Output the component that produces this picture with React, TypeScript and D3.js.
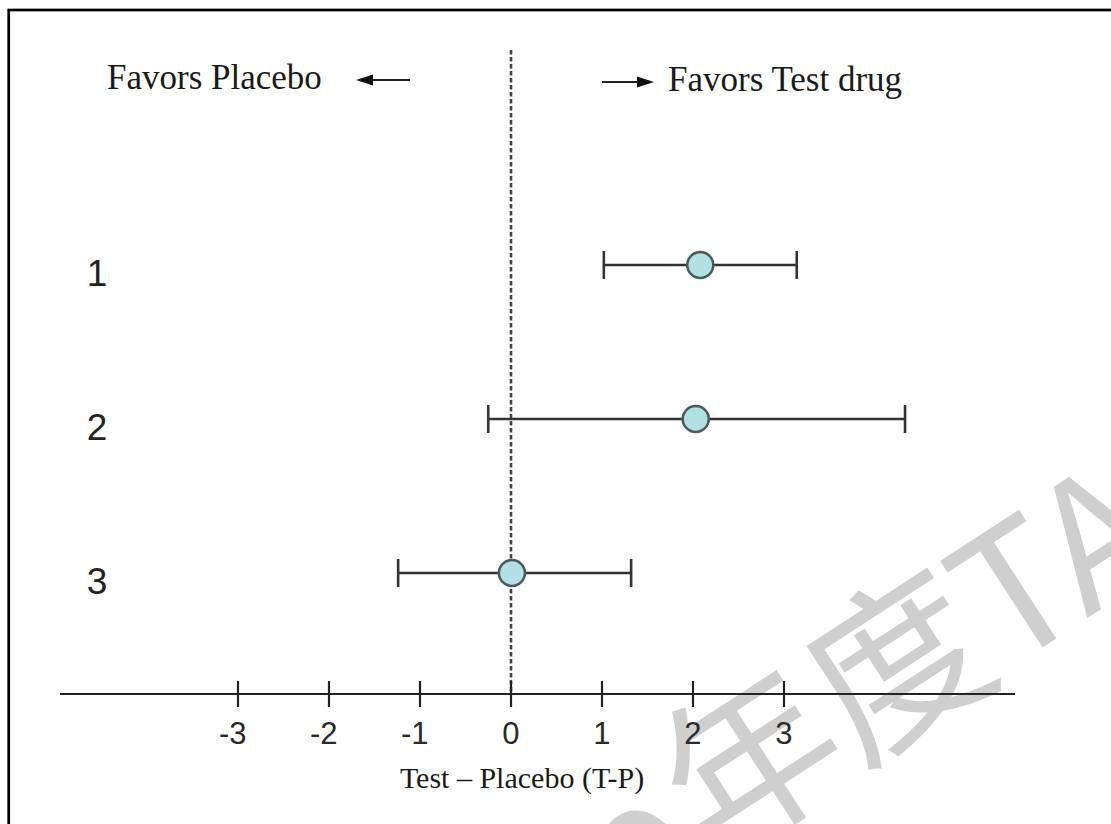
import React from "react";
import * as d3 from "d3";

const rows = ["1", "2", "3"];
const estimates = [2.08, 2.03, 0.01];
const lowerCI = [1.02, -0.25, -1.24];
const upperCI = [3.14, 4.33, 1.32];
const tickValues = [-3, -2, -1, 0, 1, 2, 3];
const leftLabel = "Favors Placebo";
const rightLabel = "Favors Test drug";
const axisTitle = "Test – Placebo (T-P)";
const watermarkHead = "2020";
const watermarkTail = "年度TA";

const W = 1111;
const H = 824;

export default function App() {
  const x = d3.scaleLinear().domain([-3, 3]).range([238, 784]);
  const y = d3.scalePoint<string>().domain(rows).range([265, 573]);
  const axisY = 694;
  const serif = "'Liberation Serif', 'Times New Roman', serif";
  const sans = "'Liberation Sans', Arial, sans-serif";
  const wmX = 712;
  const wmY = 862;

  return (
    <svg
      width={W}
      height={H}
      viewBox={`0 0 ${W} ${H}`}
      style={{ position: "absolute", left: 0, top: 0, background: "#fff" }}
    >
      <rect x={0} y={0} width={W} height={H} fill="#fff" />

      {/* watermark (behind the chart) */}
      <g
        transform={`translate(${wmX},${wmY}) rotate(-33)`}
        fill="#cfcfcf"
        fontFamily="'Noto Sans CJK SC', 'Noto Sans', sans-serif"
        fontSize={175}
      >
        <text x={-6} y={37} textAnchor="end">{watermarkHead}</text>
        <text x={0} y={0}>{watermarkTail}</text>
      </g>

      {/* frame */}
      <rect x={8.7} y={10} width={1300} height={1000} fill="none" stroke="#000" strokeWidth={2.7} />

      {/* header labels with arrows */}
      <text x={107} y={89} fontFamily={serif} fontSize={35} fill="#1a1a1a">
        {leftLabel}
      </text>
      <line x1={369} x2={410} y1={80} y2={80} stroke="#222" strokeWidth={2.2} />
      <path d="M356,80 L373,74.5 L373,85.5 Z" fill="#111" />

      <line x1={602} x2={642} y1={82} y2={82} stroke="#222" strokeWidth={2.2} />
      <path d="M654,82 L637,76.5 L637,87.5 Z" fill="#111" />
      <text x={668} y={91} fontFamily={serif} fontSize={35} fill="#1a1a1a">
        {rightLabel}
      </text>

      {/* zero reference line */}
      <line
        x1={x(0)}
        x2={x(0)}
        y1={50}
        y2={axisY}
        stroke="#444"
        strokeWidth={2.6}
        strokeDasharray="4.5,2.5"
      />

      {/* x axis */}
      <line x1={60} x2={1015} y1={axisY} y2={axisY} stroke="#222" strokeWidth={2.2} />
      {tickValues.map((t) => (
        <g key={t}>
          <line x1={x(t)} x2={x(t)} y1={axisY - 13} y2={axisY + 13} stroke="#222" strokeWidth={2.2} />
          <text
            x={x(t) + 8.5}
            y={744}
            textAnchor="end"
            fontFamily={sans}
            fontSize={31}
            fill="#2a2a2a"
          >
            {String(t)}
          </text>
        </g>
      ))}
      <text x={522} y={788} textAnchor="middle" fontFamily={serif} fontSize={30} fill="#1a1a1a">
        {axisTitle}
      </text>

      {/* rows */}
      {rows.map((r, i) => {
        const cy = y(r) as number;
        return (
          <g key={r}>
            <text
              x={97}
              y={cy + 21}
              textAnchor="middle"
              fontFamily={sans}
              fontSize={37}
              fill="#222"
            >
              {r}
            </text>
            <line x1={x(lowerCI[i])} x2={x(upperCI[i])} y1={cy} y2={cy} stroke="#333" strokeWidth={2.6} />
            <line x1={x(lowerCI[i])} x2={x(lowerCI[i])} y1={cy - 14} y2={cy + 14} stroke="#333" strokeWidth={2.6} />
            <line x1={x(upperCI[i])} x2={x(upperCI[i])} y1={cy - 14} y2={cy + 14} stroke="#333" strokeWidth={2.6} />
            <circle cx={x(estimates[i])} cy={cy} r={13} fill="#b3e0e4" stroke="#4a5a5c" strokeWidth={2.5} />
          </g>
        );
      })}
    </svg>
  );
}
